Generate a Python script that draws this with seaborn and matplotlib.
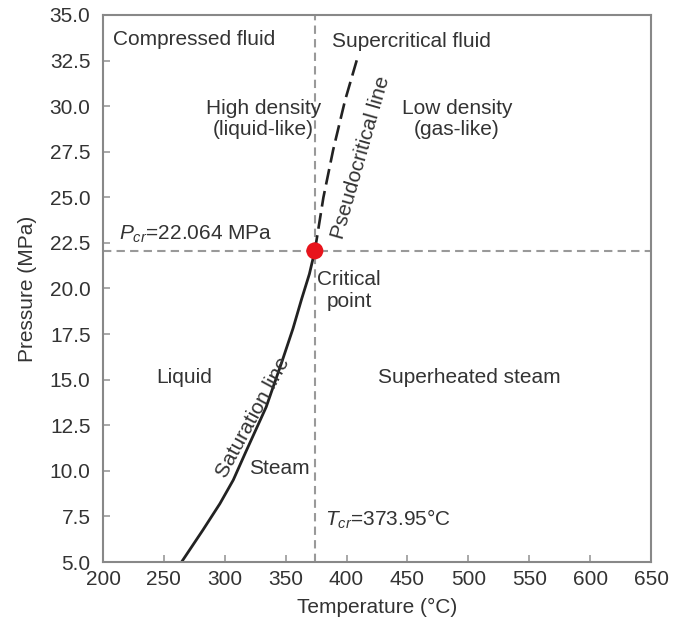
import matplotlib
matplotlib.use("Agg")
import matplotlib.pyplot as plt
import seaborn as sns
import pandas as pd

# Data
sat_T = [264.5, 282, 296, 307, 317, 334, 346.5, 356, 363, 369.5, 373.95]
sat_P = [5.0, 6.75, 8.2, 9.5, 11.0, 13.5, 15.9, 17.8, 19.4, 20.8, 22.064]
pseudo_T = [373.95, 381, 389, 398.7, 409.6]
pseudo_P = [22.064, 25.0, 27.6, 30.3, 32.8]
T_cr = 373.95
P_cr = 22.064
x_ticks = [200, 250, 300, 350, 400, 450, 500, 550, 600, 650]
y_ticks = [5.0, 7.5, 10.0, 12.5, 15.0, 17.5, 20.0, 22.5, 25.0, 27.5, 30.0, 32.5, 35.0]

sns.set_theme(style="white")
plt.rcParams['font.family'] = ['Liberation Sans', 'DejaVu Sans']
plt.rcParams['mathtext.fontset'] = 'custom'
plt.rcParams['mathtext.rm'] = 'Liberation Sans'
plt.rcParams['mathtext.it'] = 'Liberation Sans:italic'

fs = 15
tc = '#333333'

fig, ax = plt.subplots(figsize=(6.75, 6.31), dpi=100)
fig.subplots_adjust(left=103/675, right=651/675, top=1-15/631, bottom=1-562/631)

ax.axvline(T_cr, color='#999999', lw=1.5, ls=(0, (4, 2.5)), zorder=1)
ax.axhline(P_cr, color='#999999', lw=1.5, ls=(0, (4, 2.5)), zorder=1)

sat = pd.DataFrame({'T': sat_T, 'P': sat_P})
pse = pd.DataFrame({'T': pseudo_T, 'P': pseudo_P})
sns.lineplot(data=sat, x='T', y='P', sort=False, color='#222222', lw=2, ax=ax, zorder=2)
sns.lineplot(data=pse, x='T', y='P', sort=False, color='#222222', lw=1.9, ax=ax,
             zorder=2, linestyle=(0, (6, 2.5)))
sns.scatterplot(x=[T_cr], y=[P_cr], color='#e8141c', s=150, edgecolor='none', ax=ax, zorder=3)

ax.set_xlim(200, 650)
ax.set_ylim(5, 35)
ax.set_xticks(x_ticks)
ax.set_yticks(y_ticks)
ax.set_xticklabels([str(v) for v in x_ticks])
ax.set_yticklabels([f"{v:.1f}" for v in y_ticks])
ax.tick_params(axis='both', direction='in', length=5, width=1.2, color='#999999',
               labelsize=fs, labelcolor=tc, left=True, bottom=True)
ax.tick_params(axis='y', pad=9)
ax.tick_params(axis='x', pad=6)
for sp in ax.spines.values():
    sp.set_color('#888888')
    sp.set_linewidth(1.5)

ax.set_xlabel("Temperature (°C)", fontsize=fs, color=tc, labelpad=6)
ax.set_ylabel("Pressure (MPa)", fontsize=fs, color=tc, labelpad=9)

kw = dict(fontsize=fs, color=tc)
ax.text(208, 33.65, "Compressed fluid", ha='left', va='center', **kw)
ax.text(388, 33.55, "Supercritical fluid", ha='left', va='center', **kw)
ax.text(331.5, 29.3, "High density\n(liquid-like)", ha='center', va='center', linespacing=1.1, **kw)
ax.text(490.5, 29.3, "Low density\n(gas-like)", ha='center', va='center', linespacing=1.1, **kw)
ax.text(412, 27.2, "Pseudocritical line", ha='center', va='center', rotation=74,
        rotation_mode='anchor', **kw)
ax.text(213, 22.95, r"$P_{cr}$=22.064 MPa", ha='left', va='center', **kw)
ax.text(402, 19.9, "Critical\npoint", ha='center', va='center', linespacing=1.2, **kw)
ax.text(267, 15.1, "Liquid", ha='center', va='center', **kw)
ax.text(323, 12.9, "Saturation line", ha='center', va='center', rotation=61.5,
        rotation_mode='anchor', **kw)
ax.text(345, 10.15, "Steam", ha='center', va='center', **kw)
ax.text(501, 15.1, "Superheated steam", ha='center', va='center', **kw)
ax.text(382, 7.35, r"$T_{cr}$=373.95°C", ha='left', va='center', **kw)

fig.savefig("out.png", dpi=100)
